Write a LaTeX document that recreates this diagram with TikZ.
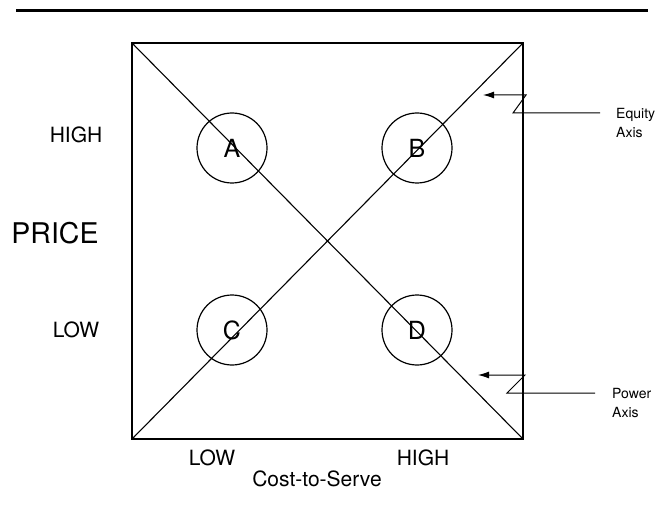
\documentclass[tikz,border=0pt]{standalone}
\usepackage{fontspec}
\setmainfont{TeX Gyre Heros}
\usetikzlibrary{arrows.meta, positioning, calc}
\tikzstyle{quad} = [circle, draw=black, line width=1.2pt, minimum size=70pt, inner sep=0pt, font=\fontsize{25}{30}\selectfont]
\tikzstyle{lbl} = [inner sep=0pt, font=\fontsize{21}{25}\selectfont]
\tikzstyle{axisnote} = [inner sep=0pt, align=left, font=\fontsize{14}{19}\selectfont]
\tikzstyle{axisarrow} = [line width=1pt, -{Latex[length=11pt,width=7pt]}]

\begin{document}
\begin{tikzpicture}[x=1pt, y=-1pt]
    \useasboundingbox (0,0) rectangle (663,521);
    % Heading rule
    \draw[line width=3pt] (16,11) -- (648,11);

    % Square and its two axes
    \coordinate (nw) at (132,43);
    \coordinate (ne) at (523,43);
    \coordinate (sw) at (132,439);
    \coordinate (se) at (523,439);
    \draw[line width=1.4pt] (nw) rectangle (se);
    \draw[line width=1.1pt] (nw) -- (se);
    \draw[line width=1.1pt] (sw) -- (ne);

    % Quadrants
    \node (qa) [quad] at (232,148) {A};
    \node (qb) [quad] at (417,148) {B};
    \node (qc) [quad] at (232,330) {C};
    \node (qd) [quad] at (417,330) {D};

    % Price labels
    \node (phigh) [lbl] at (76,135) {HIGH};
    \node (price) [lbl, font=\fontsize{28.5}{32}\selectfont] at (55,233) {PRICE};
    \node (plow) [lbl] at (76,330) {LOW};

    % Cost-to-Serve labels
    \node (clow) [lbl] at (212,458) {LOW};
    \node (chigh) [lbl] at (423,458) {HIGH};
    \node (cost) [lbl] at (317,479) {Cost-to-Serve};

    % Axis notes
    \node (equity) [axisnote, anchor=west] at (616,123) {Equity\\Axis};
    \node (power) [axisnote, anchor=west] at (612,403) {Power\\Axis};

    \coordinate (eqk) at (513,113);
    \coordinate (eqe) at (526,95);
    \coordinate (eqt) at (483,95);
    \coordinate (pok) at (507,393);
    \coordinate (poe) at (525,375);
    \coordinate (pot) at (478,375);

    \draw [axisarrow] ($(eqk)+(87,0)$) -- (eqk) -- (eqe) -- (eqt);
    \draw [axisarrow] ($(pok)+(88,0)$) -- (pok) -- (poe) -- (pot);

\end{tikzpicture}
\end{document}
